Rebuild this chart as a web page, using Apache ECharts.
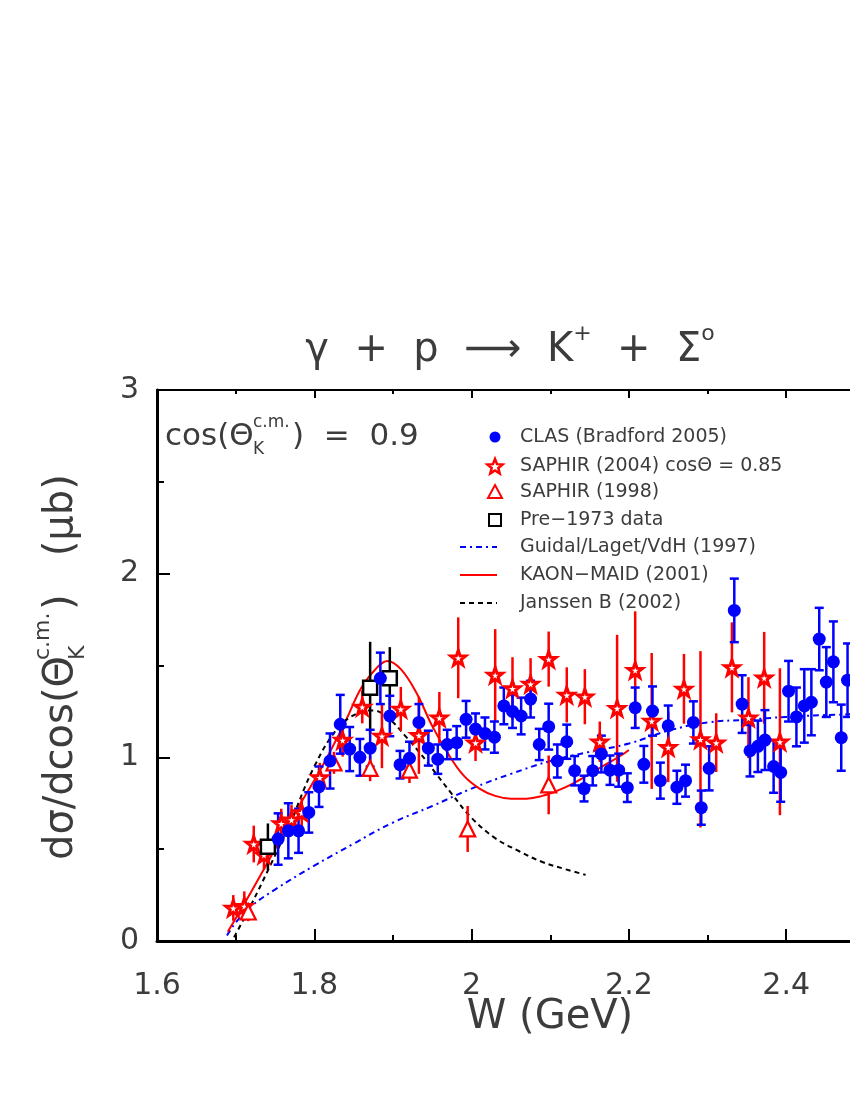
<!DOCTYPE html>
<html><head><meta charset="utf-8">
<script src="https://cdn.jsdelivr.net/npm/echarts@6/dist/echarts.min.js"></script>
<style>html,body{margin:0;padding:0;background:#fff}#c{width:850px;height:1100px}</style>
</head><body><div id="c"></div>
<script>
// ---- data (W in GeV, dσ/dcos in μb, symmetric error) ----
const clasW = [1.754,1.767,1.780,1.793,1.806,1.820,1.833,1.845,1.858,1.871,1.884,1.896,1.909,1.921,1.933,1.945,1.957,1.969,1.981,1.993,2.005,2.017,2.029,2.041,2.052,2.063,2.075,2.086,2.098,2.109,2.121,2.131,2.143,2.154,2.165,2.176,2.187,2.198,2.208,2.219,2.230,2.240,2.250,2.261,2.272,2.282,2.292,2.302,2.334,2.344,2.354,2.364,2.373,2.384,2.393,2.403,2.413,2.423,2.432,2.442,2.451,2.460,2.470,2.478];
const clasY = [0.555,0.60,0.60,0.70,0.84,0.98,1.18,1.045,1.00,1.05,1.43,1.225,0.96,0.995,1.19,1.05,0.99,1.07,1.08,1.207,1.154,1.13,1.11,1.28,1.25,1.225,1.317,1.07,1.167,0.98,1.085,0.927,0.83,0.927,1.018,0.93,0.93,0.835,1.27,0.962,1.252,0.873,1.172,0.837,0.873,1.19,0.726,0.94,1.80,1.29,1.036,1.06,1.094,0.95,0.918,1.36,1.22,1.28,1.30,1.644,1.41,1.52,1.107,1.42];
const clasErr = [0.14,0.15,0.12,0.11,0.11,0.15,0.16,0.12,0.10,0.10,0.14,0.11,0.075,0.09,0.10,0.095,0.08,0.08,0.09,0.10,0.085,0.087,0.085,0.10,0.09,0.10,0.10,0.085,0.125,0.09,0.093,0.08,0.07,0.08,0.10,0.08,0.09,0.078,0.11,0.10,0.134,0.098,0.11,0.09,0.087,0.115,0.093,0.12,0.173,0.157,0.14,0.14,0.163,0.143,0.16,0.165,0.16,0.2,0.18,0.17,0.19,0.22,0.18,0.2];

const saph04W = [1.697,1.711,1.723,1.736,1.758,1.771,1.784,1.807,1.836,1.861,1.886,1.910,1.933,1.959,1.983,2.005,2.030,2.052,2.075,2.098,2.121,2.144,2.163,2.185,2.208,2.229,2.250,2.270,2.291,2.311,2.331,2.352,2.372,2.392];
const saph04Y = [0.18,0.19,0.528,0.47,0.64,0.66,0.70,0.89,1.094,1.275,1.116,1.263,1.12,1.216,1.542,1.08,1.448,1.375,1.40,1.535,1.34,1.33,1.085,1.267,1.475,1.198,1.055,1.373,1.098,1.08,1.49,1.216,1.433,1.085];
const saph04Err = [0.07,0.08,0.10,0.08,0.08,0.08,0.08,0.08,0.09,0.09,0.175,0.12,0.21,0.14,0.22,0.10,0.25,0.17,0.14,0.15,0.15,0.15,0.11,0.40,0.32,0.37,0.19,0.19,0.48,0.16,0.245,0.22,0.25,0.40];

const saph98W = [1.716,1.825,1.871,1.921,1.995,2.098];
const saph98Y = [0.158,0.97,0.94,0.93,0.61,0.85];
const saph98Err = [0.05,0.06,0.07,0.07,0.125,0.16];

const pre73W = [1.741,1.871,1.896];
const pre73Y = [0.513,1.379,1.43];
const pre73Err = [0.127,0.25,0.17];

const guidalW = [1.689,1.70,1.72,1.75,1.80,1.85,1.90,1.95,2.00,2.05,2.10,2.15,2.20,2.25,2.30,2.35,2.40,2.45,2.49];
const guidalY = [0.03,0.10,0.19,0.28,0.41,0.53,0.645,0.735,0.83,0.91,0.98,1.03,1.075,1.145,1.19,1.205,1.22,1.23,1.235];

const maidW = [1.690,1.72,1.75,1.78,1.81,1.84,1.86,1.88,1.893,1.91,1.93,1.95,1.97,1.99,2.01,2.03,2.05,2.07,2.09,2.11,2.13,2.15,2.17,2.19,2.20];
const maidY = [0.05,0.27,0.50,0.73,0.95,1.20,1.38,1.49,1.525,1.48,1.35,1.17,1.02,0.90,0.83,0.79,0.775,0.775,0.79,0.82,0.86,0.91,0.96,1.01,1.04];

const janW = [1.698,1.72,1.745,1.77,1.80,1.83,1.855,1.875,1.895,1.915,1.935,1.955,1.975,2.00,2.03,2.06,2.09,2.12,2.145];
const janY = [0.02,0.20,0.42,0.65,0.95,1.16,1.24,1.255,1.21,1.12,1.02,0.91,0.80,0.67,0.56,0.49,0.43,0.39,0.36];

const xTicks = {min:1.6, max:2.6, step:0.2};
const yTicks = {min:0, max:3, step:1};

// ---- build ----
const zip2 = (a,b) => a.map((v,i)=>[v,b[i]]);
const zip3 = (a,b,c) => a.map((v,i)=>[v,b[i],c[i]]);
const STAR = 'path://M50,2 L61.8,35.8 L97.6,36.5 L69,58.2 L79.4,92.5 L50,72 L20.6,92.5 L31,58.2 L2.4,36.5 L38.2,35.8 Z';
const FONT = 'DejaVu Sans';
const TXT = '#3c3c3c';

function errBars(color, cap, lw){
  return function(params, api){
    const x = api.value(0), y = api.value(1), e = api.value(2);
    const lo = api.coord([x, y - e]), hi = api.coord([x, y + e]);
    const st = {stroke: color, lineWidth: lw};
    const ch = [{type:'line', shape:{x1:lo[0],y1:lo[1],x2:hi[0],y2:hi[1]}, style:st}];
    if (cap) {
      ch.push({type:'line', shape:{x1:lo[0]-cap,y1:lo[1],x2:lo[0]+cap,y2:lo[1]}, style:st});
      ch.push({type:'line', shape:{x1:hi[0]-cap,y1:hi[1],x2:hi[0]+cap,y2:hi[1]}, style:st});
    }
    return {type:'group', children: ch};
  };
}

function starPts(cx, cy, R, r){
  const p=[]; for(let i=0;i<10;i++){const a=-Math.PI/2+i*Math.PI/5; const rr=i%2?r:R; p.push([cx+rr*Math.cos(a), cy+rr*Math.sin(a)]);} return p;
}

const chart = echarts.init(document.getElementById('c'), null, {renderer:'canvas'});
const axisLine = w => ({show:true, onZero:false, lineStyle:{color:'#000', width:w}});
const legX = 495, legTx = 520, legRows = [437,466,492,520,547,575,603];
const legTexts = ['CLAS (Bradford 2005)','SAPHIR (2004) cosΘ = 0.85','SAPHIR (1998)','Pre−1973 data','Guidal/Laget/VdH (1997)','KAON−MAID (2001)','Janssen B (2002)'];

const graphic = [
  // title
  {type:'text', x:510, y:347, style:{text:'{a|γ  +  p  ⟶  K}{s|+}{a|  +  Σ}{s|o}', align:'center', verticalAlign:'middle', rich:{a:{fontSize:40, fontFamily:FONT, fill:TXT, verticalAlign:'bottom', lineHeight:48}, s:{fontSize:22, fontFamily:FONT, fill:TXT, verticalAlign:'top', lineHeight:48}}}},
  // cos annotation
  {type:'text', x:165, y:437, style:{text:'cos(Θ', fontSize:31, fontFamily:FONT, fill:TXT, verticalAlign:'middle', align:'left'}},
  {type:'text', x:253, y:423, style:{text:'c.m.', fontSize:17, fontFamily:FONT, fill:TXT, verticalAlign:'middle', align:'left'}},
  {type:'text', x:253, y:450, style:{text:'K', fontSize:17, fontFamily:FONT, fill:TXT, verticalAlign:'middle', align:'left'}},
  {type:'text', x:292, y:437, style:{text:')  =  0.9', fontSize:31, fontFamily:FONT, fill:TXT, verticalAlign:'middle', align:'left'}},
  // y axis title (rotated)
  {type:'text', x:62, y:860, rotation:Math.PI/2, style:{text:'dσ/dcos(Θ', fontSize:40, fontFamily:FONT, fill:TXT, verticalAlign:'middle', align:'left'}},
  {type:'text', x:43, y:660, rotation:Math.PI/2, style:{text:'c.m.', fontSize:22, fontFamily:FONT, fill:TXT, verticalAlign:'middle', align:'left'}},
  {type:'text', x:78, y:660, rotation:Math.PI/2, style:{text:'K', fontSize:22, fontFamily:FONT, fill:TXT, verticalAlign:'middle', align:'left'}},
  {type:'text', x:62, y:610, rotation:Math.PI/2, style:{text:')   (μb)', fontSize:40, fontFamily:FONT, fill:TXT, verticalAlign:'middle', align:'left'}},
  // x axis title
  {type:'text', x:550, y:1018, style:{text:'W (GeV)', fontSize:40, fontFamily:FONT, fill:TXT, verticalAlign:'middle', align:'center'}},
  // legend symbols
  {type:'circle', shape:{cx:legX, cy:legRows[0], r:5.5}, style:{fill:'#0000ff'}},
  {type:'polygon', shape:{points:starPts(legX, legRows[1]+1, 8, 3.5)}, style:{fill:'#fff', stroke:'#ff0000', lineWidth:2.5}},
  {type:'polygon', shape:{points:[[legX,legRows[2]-7],[legX+7,legRows[2]+6],[legX-7,legRows[2]+6]]}, style:{fill:'#fff', stroke:'#ff0000', lineWidth:2}},
  {type:'rect', shape:{x:legX-6, y:legRows[3]-6, width:12, height:12}, style:{fill:'#fff', stroke:'#000', lineWidth:2}},
  {type:'line', shape:{x1:460, y1:legRows[4], x2:497, y2:legRows[4]}, style:{stroke:'#0000ff', lineWidth:2, lineDash:[6,4,2,4]}},
  {type:'line', shape:{x1:460, y1:legRows[5], x2:497, y2:legRows[5]}, style:{stroke:'#ff0000', lineWidth:2}},
  {type:'line', shape:{x1:460, y1:legRows[6], x2:497, y2:legRows[6]}, style:{stroke:'#000', lineWidth:2, lineDash:[5,4]}}
];
legTexts.forEach((t,i)=>graphic.push({type:'text', x:legTx, y:legRows[i], style:{text:t, fontSize:19, fontFamily:FONT, fill:TXT, verticalAlign:'middle', align:'left'}}));

const option = {
  animation:false,
  backgroundColor:'#fff',
  grid:{left:157, top:390, right:-93.5, bottom:159, containLabel:false, outerBoundsMode:'none', show:false},
  xAxis:[
    {type:'value', position:'bottom', min:xTicks.min, max:xTicks.max, interval:xTicks.step,
     axisLine:axisLine(3), axisTick:{show:true, inside:true, length:12, lineStyle:{color:'#000', width:2}},
     minorTick:{show:true, splitNumber:2, length:6, lineStyle:{color:'#000', width:2}},
     splitLine:{show:false}, minorSplitLine:{show:false},
     axisLabel:{fontSize:30, fontFamily:FONT, color:TXT, margin:30}},
    {type:'value', position:'top', min:xTicks.min, max:xTicks.max, interval:xTicks.step,
     axisLine:axisLine(2), axisTick:{show:true, inside:true, length:8, lineStyle:{color:'#000', width:2}},
     minorTick:{show:true, splitNumber:2, length:4, lineStyle:{color:'#000', width:2}},
     splitLine:{show:false}, axisLabel:{show:false}}
  ],
  yAxis:[
    {type:'value', position:'left', min:yTicks.min, max:yTicks.max, interval:yTicks.step,
     axisLine:axisLine(3), axisTick:{show:true, inside:true, length:13, lineStyle:{color:'#000', width:2}},
     minorTick:{show:true, splitNumber:2, length:7, lineStyle:{color:'#000', width:2}},
     splitLine:{show:false}, minorSplitLine:{show:false},
     axisLabel:{fontSize:30, fontFamily:FONT, color:TXT, margin:18}}
  ],
  series:[
    {name:'Guidal/Laget/VdH (1997)', type:'line', smooth:0.4, showSymbol:false, symbol:'none', data:zip2(guidalW,guidalY), lineStyle:{color:'#0000ff', width:2, type:[6,4,2,4]}, z:2},
    {name:'KAON-MAID (2001)', type:'line', smooth:0.4, showSymbol:false, symbol:'none', data:zip2(maidW,maidY), lineStyle:{color:'#ff0000', width:2}, z:2},
    {name:'Janssen B (2002)', type:'line', smooth:0.4, showSymbol:false, symbol:'none', data:zip2(janW,janY), lineStyle:{color:'#000', width:2, type:[5,4]}, z:2},
    {type:'custom', renderItem:errBars('#ff0000',0,2.5), data:zip3(saph04W,saph04Y,saph04Err), z:3, silent:true},
    {type:'custom', renderItem:errBars('#ff0000',0,2.5), data:zip3(saph98W,saph98Y,saph98Err), z:3, silent:true},
    {type:'custom', renderItem:errBars('#000',0,2.5), data:zip3(pre73W,pre73Y,pre73Err), z:3, silent:true},
    {type:'custom', renderItem:errBars('#0000ff',4.5,2.5), data:zip3(clasW,clasY,clasErr), z:4, silent:true},
    {name:'SAPHIR (2004)', type:'scatter', data:zip2(saph04W,saph04Y), symbol:STAR, symbolSize:15, itemStyle:{color:'#fff', borderColor:'#ff0000', borderWidth:3, opacity:1}, z:5},
    {name:'SAPHIR (1998)', type:'scatter', data:zip2(saph98W,saph98Y), symbol:'triangle', symbolSize:15, itemStyle:{color:'#fff', borderColor:'#ff0000', borderWidth:2.2, opacity:1}, z:5},
    {name:'Pre-1973 data', type:'scatter', data:zip2(pre73W,pre73Y), symbol:'rect', symbolSize:14, itemStyle:{color:'#fff', borderColor:'#000', borderWidth:2.5, opacity:1}, z:5},
    {name:'CLAS (Bradford 2005)', type:'scatter', data:zip2(clasW,clasY), symbol:'circle', symbolSize:13, itemStyle:{color:'#0000ff', opacity:1}, z:6}
  ],
  graphic: graphic
};
chart.setOption(option);
</script>
</body></html>
